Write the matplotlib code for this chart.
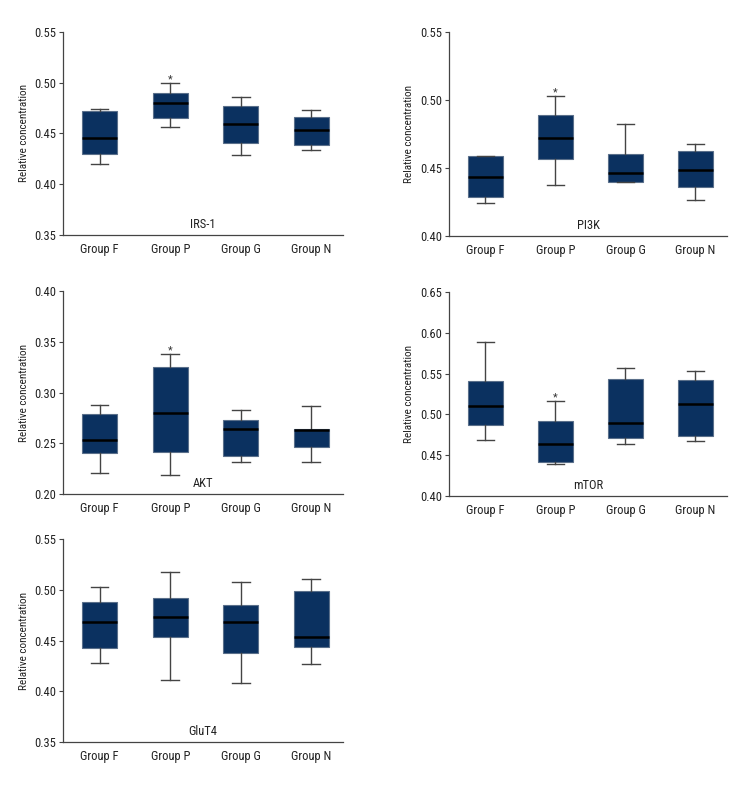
import matplotlib
matplotlib.use("Agg")
import matplotlib.pyplot as plt
from matplotlib import font_manager

names = {f.name for f in font_manager.fontManager.ttflist}
fam = [n for n in ["Liberation Sans Narrow", "DejaVu Sans Condensed", "Roboto Condensed"] if n in names] + ["DejaVu Sans"]
plt.rcParams['font.family'] = fam

groups = ["Group F", "Group P", "Group G", "Group N"]

# five-number summaries per group: [whisker low, Q1, median, Q3, whisker high]
irs1_lo = [0.420, 0.456, 0.429, 0.434]
irs1_q1 = [0.430, 0.465, 0.441, 0.4385]
irs1_med = [0.446, 0.480, 0.4595, 0.453]
irs1_q3 = [0.472, 0.490, 0.477, 0.4665]
irs1_hi = [0.474, 0.4995, 0.486, 0.4736]

pi3k_lo = [0.424, 0.4372, 0.440, 0.4265]
pi3k_q1 = [0.4289, 0.4565, 0.440, 0.4357]
pi3k_med = [0.4436, 0.4717, 0.4465, 0.4485]
pi3k_q3 = [0.4587, 0.4893, 0.460, 0.4624]
pi3k_hi = [0.459, 0.5028, 0.4827, 0.4678]

akt_lo = [0.2203, 0.2187, 0.2315, 0.2318]
akt_q1 = [0.2403, 0.241, 0.2371, 0.246]
akt_med = [0.2531, 0.280, 0.2643, 0.263]
akt_q3 = [0.2787, 0.3249, 0.2726, 0.2643]
akt_hi = [0.2875, 0.3377, 0.2828, 0.287]

mtor_lo = [0.4685, 0.4387, 0.4636, 0.468]
mtor_q1 = [0.4873, 0.4412, 0.4714, 0.4738]
mtor_med = [0.5105, 0.464, 0.4893, 0.5122]
mtor_q3 = [0.5415, 0.4918, 0.5436, 0.5423]
mtor_hi = [0.5884, 0.5162, 0.5574, 0.5537]

glut4_lo = [0.4277, 0.411, 0.408, 0.4267]
glut4_q1 = [0.4425, 0.4536, 0.4372, 0.4438]
glut4_med = [0.4684, 0.473, 0.468, 0.4533]
glut4_q3 = [0.4884, 0.492, 0.4854, 0.4989]
glut4_hi = [0.5028, 0.5172, 0.5074, 0.511]

titles = ["IRS-1", "PI3K", "AKT", "mTOR", "GluT4"]
ylims = [(0.35, 0.55), (0.40, 0.55), (0.20, 0.40), (0.40, 0.65), (0.35, 0.55)]
yticks = [[0.35, 0.40, 0.45, 0.50, 0.55],
          [0.40, 0.45, 0.50, 0.55],
          [0.20, 0.25, 0.30, 0.35, 0.40],
          [0.40, 0.45, 0.50, 0.55, 0.60, 0.65],
          [0.35, 0.40, 0.45, 0.50, 0.55]]
star_group = [1, 1, 1, 1, None]

panels = [
    (irs1_lo, irs1_q1, irs1_med, irs1_q3, irs1_hi),
    (pi3k_lo, pi3k_q1, pi3k_med, pi3k_q3, pi3k_hi),
    (akt_lo, akt_q1, akt_med, akt_q3, akt_hi),
    (mtor_lo, mtor_q1, mtor_med, mtor_q3, mtor_hi),
    (glut4_lo, glut4_q1, glut4_med, glut4_q3, glut4_hi),
]

W, H = 750, 786
fig = plt.figure(figsize=(7.5, 7.86), dpi=100)
# axes rectangles in pixels: (left, top, right, bottom)
rects = [(63, 32, 343, 235), (449, 32, 727, 236),
         (63, 291, 343, 494), (449, 292, 727, 496),
         (63, 539, 343, 742)]

box_color = "#0b3160"
whisk_color = "#444444"
text_color = "#222222"

for i, (stats5, title) in enumerate(zip(panels, titles)):
    l, t, r, b = rects[i]
    ax = fig.add_axes([l / W, 1 - b / H, (r - l) / W, (b - t) / H])
    lo, q1, med, q3, hi = stats5
    stats = [dict(whislo=lo[k], q1=q1[k], med=med[k], q3=q3[k], whishi=hi[k], fliers=[])
             for k in range(len(groups))]
    ax.bxp(stats, positions=range(len(groups)), widths=0.5, patch_artist=True,
           showfliers=False,
           boxprops=dict(facecolor=box_color, edgecolor="#5a6f8a", linewidth=0.8),
           medianprops=dict(color="black", linewidth=1.8),
           whiskerprops=dict(color=whisk_color, linewidth=1.0),
           capprops=dict(color=whisk_color, linewidth=1.0),
           capwidths=0.25)
    ax.set_xlim(-0.52, 3.45)
    ax.set_ylim(*ylims[i])
    ax.set_yticks(yticks[i])
    ax.set_yticklabels([f"{v:.2f}" for v in yticks[i]], fontsize=9, color=text_color)
    ax.set_xticks(range(len(groups)))
    ax.set_xticklabels(groups, fontsize=9, color=text_color)
    ax.tick_params(axis='x', length=0, pad=6)
    ax.tick_params(axis='y', length=3, width=0.8, color="#444444", pad=2)
    for s in ["top", "right"]:
        ax.spines[s].set_visible(False)
    for s in ["left", "bottom"]:
        ax.spines[s].set_color("#444444")
        ax.spines[s].set_linewidth(0.9)
    ax.set_ylabel("Relative concentration", fontsize=8, color=text_color, labelpad=4)
    ax.text(0.5, 0.02, title, transform=ax.transAxes, ha="center", va="bottom",
            fontsize=9, color=text_color)
    sg = star_group[i]
    if sg is not None:
        ax.annotate("*", xy=(sg, hi[sg]), xytext=(0, -1), textcoords="offset points",
                    ha="center", va="bottom", fontsize=8, color="#333333")

fig.savefig("out.png", dpi=100)
